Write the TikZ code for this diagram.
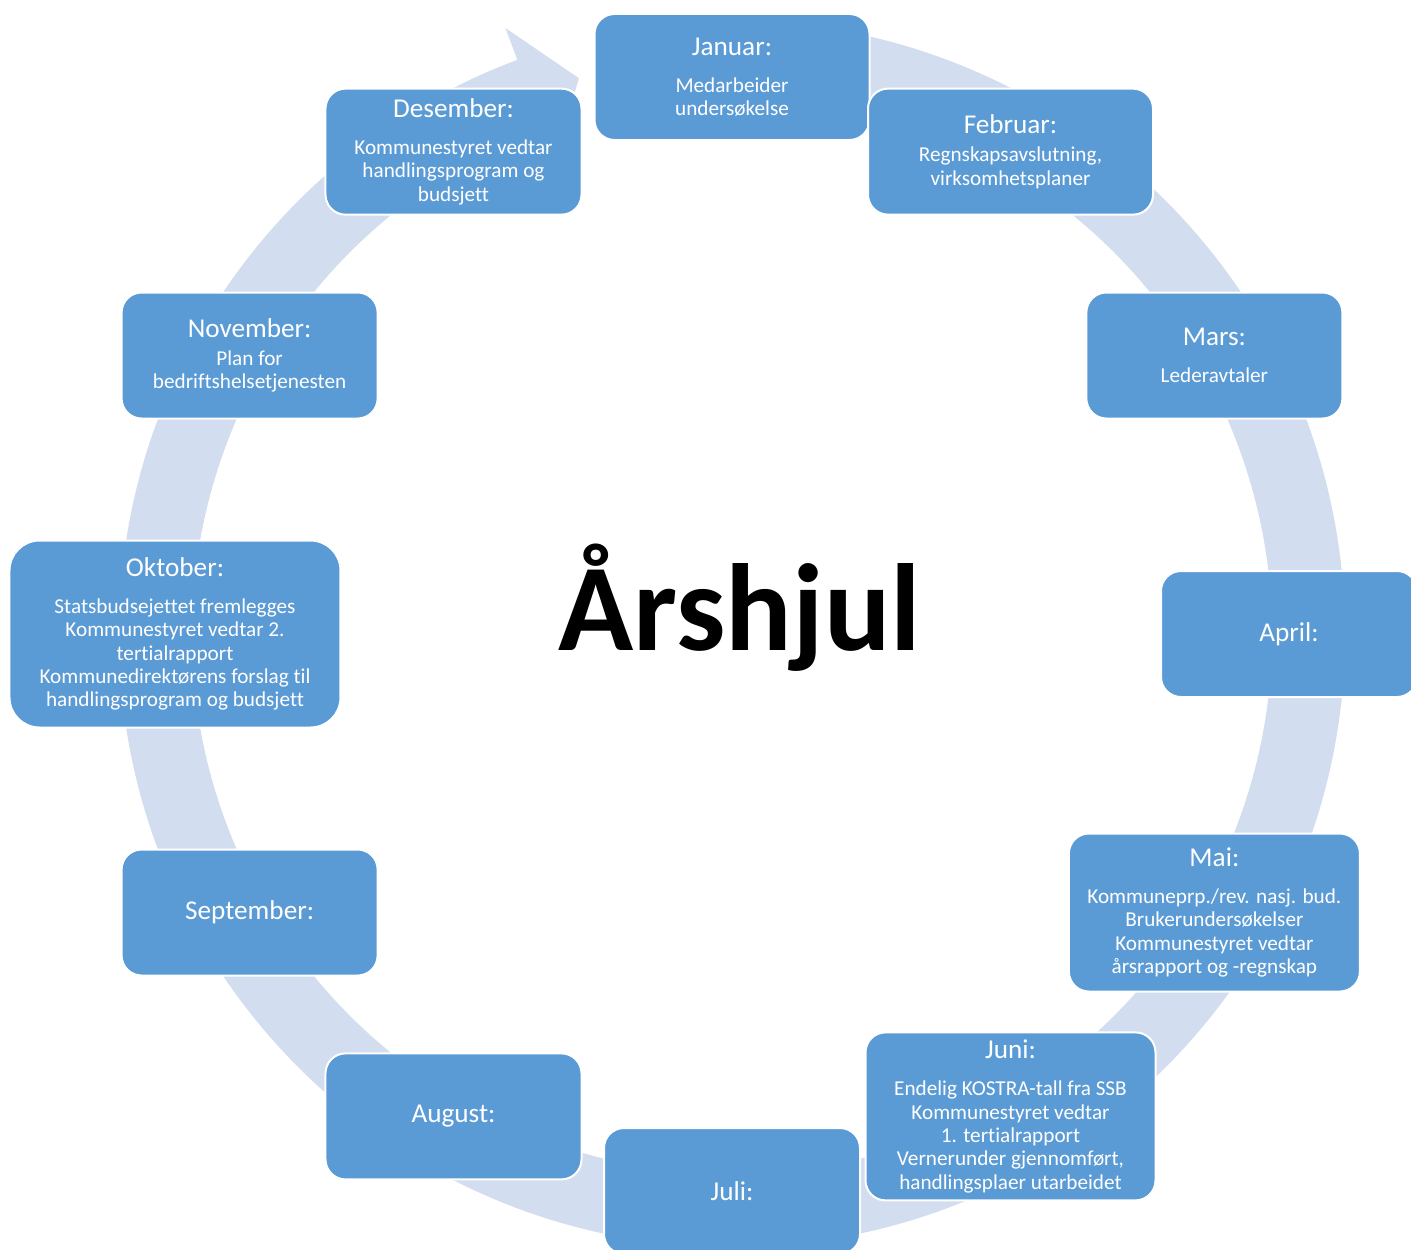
\documentclass[tikz,border=0pt]{standalone}
\usepackage{fontspec}
\setmainfont{Carlito}[Ligatures=NoCommon]
\definecolor{boxblue}{HTML}{5B9BD5}
\definecolor{ringblue}{HTML}{D2DEEF}
\newcommand{\mhead}[1]{{\fontsize{13.6}{15}\selectfont #1}}
\tikzset{
    monthbox/.style={rectangle, rounded corners=10pt, fill=boxblue, draw=white,
        line width=1pt, text=white, align=center, inner sep=2pt,
        minimum width=128pt, minimum height=63pt,
        font=\fontsize{10.6}{11.65}\selectfont},
}
\begin{document}
\begin{tikzpicture}[x=0.5pt,y=0.5pt]
    \useasboundingbox (-732,-615) rectangle (679,634);

    % ring with arrow head
    \fill[ringblue] (95:613) arc[start angle=95, end angle=-249.5, radius=613]
        -- (-249.5:647) -- (-254.6:576.5) -- (-249.5:506) -- (-249.5:540)
        arc[start angle=-249.5, end angle=95, radius=540] -- cycle;

    % months
    \node[monthbox, minimum width=137.5pt] (jan) at (90:557)
        {\mhead{Januar:}\\[6.85pt]Medarbeider\\undersøkelse};
    \node[monthbox, minimum width=142.5pt] (feb) at (60:557)
        {\mhead{Februar:}\\[2.4pt]Regnskapsavslutning,\\virksomhetsplaner};
    \node[monthbox] (mar) at (30:557)
        {\mhead{Mars:}\\[6.85pt]Lederavtaler};
    \node[monthbox] (apr) at (0:557) {\mhead{April:}};
    \node[monthbox, minimum width=145.5pt, minimum height=79pt] (mai) at (-30:557)
        {\mhead{Mai:}\\[6.85pt]Kommuneprp./rev. nasj. bud.\\Brukerundersøkelser\\Kommunestyret vedtar\\årsrapport og -regnskap};
    \node[monthbox, minimum width=145pt, minimum height=84pt] (jun) at (-60:557)
        {\mhead{Juni:}\\[6.85pt]Endelig KOSTRA-tall fra SSB\\Kommunestyret vedtar\\1. tertialrapport\\Vernerunder gjennomført,\\handlingsplaer utarbeidet};
    \node[monthbox] (jul) at (-90:557) {\mhead{Juli:}};
    \node[monthbox] (aug) at (-120:557) {\mhead{August:}};
    \node[monthbox] (sep) at (-150:557) {\mhead{September:}};
    \node[monthbox, rounded corners=15pt, minimum width=165.5pt, minimum height=93.5pt] (okt) at (180:557)
        {\mhead{Oktober:}\\[6.85pt]Statsbudsejettet fremlegges\\Kommunestyret vedtar 2.\\tertialrapport\\Kommunedirektørens forslag til\\handlingsprogram og budsjett};
    \node[monthbox] (nov) at (150:557)
        {\mhead{November:}\\[2.4pt]Plan for\\bedriftshelsetjenesten};
    \node[monthbox] (des) at (120:557)
        {\mhead{Desember:}\\[6.85pt]Kommunestyret vedtar\\handlingsprogram og\\budsjett};

    % title
    \node[anchor=base, font=\fontsize{62}{70}\selectfont\bfseries] (title) at (8,-16) {Årshjul};

\end{tikzpicture}
\end{document}
